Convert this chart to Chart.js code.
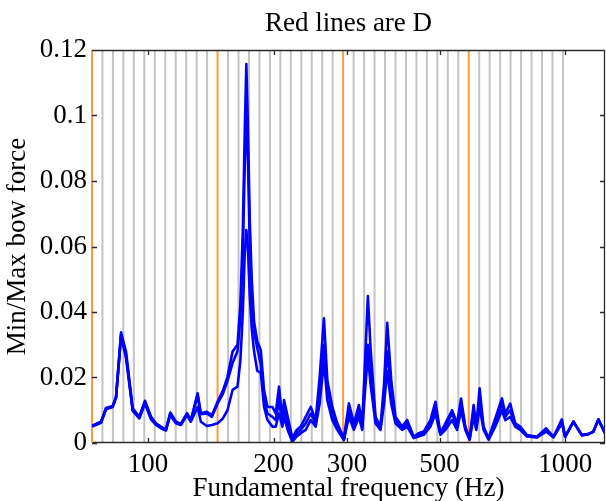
<!DOCTYPE html>
<html><head><meta charset="utf-8">
<script src="https://cdn.jsdelivr.net/npm/chart.js@4/dist/chart.umd.min.js"></script>
<style>html,body{margin:0;padding:0;background:#fff;overflow:hidden}canvas{display:block}</style>
</head><body>
<canvas id="c" width="606" height="501"></canvas>
<script>
const freqHz = [73.5,77.18,79.32,82.32,83.84,86.19,88.58,91.92,95.32,98.36,
101.7,104.5,107.4,110.4,113.1,116.7,119.9,124.0,126.7,131.5,
133.9,138.4,142.3,146.8,151.2,155.1,159.5,163.9,166.5,168.8,
170.6,172.1,173.5,175.4,177.3,179.6,182.8,186.4,189.8,193.4,
198.8,202.4,206.1,210.0,211.9,216.2,221.9,227.2,232.3,238.8,
245.5,252.3,257.9,264.1,269.1,276.6,284.3,294.9,303.1,311.6,
320.3,326.3,331.4,336.6,341.6,351.1,360.9,368.0,374.5,382.9,
392.0,406.8,418.1,433.6,445.0,458.1,475.4,488.7,502.3,516.3,
535.7,550.7,562.9,576.4,590.2,603.4,612.4,623.6,637.5,655.3,
680.0,705.6,718.5,738.6,759.2,780.5,809.8,855.7,900.6,937.6,
982.0,1000,1046.8,1096.3,1136.9,1168.7,1201.3,1246];

const forceA = [0.0053,0.0065,0.0107,0.0113,0.0141,0.0338,0.0279,0.0106,0.0080,0.0129,
0.0080,0.0060,0.0050,0.0040,0.0093,0.0065,0.0058,0.0091,0.0070,0.0152,
0.0091,0.0095,0.0085,0.0126,0.0160,0.0202,0.0279,0.0300,0.0420,0.0650,
0.0950,0.1157,0.0980,0.0680,0.0500,0.0370,0.0310,0.0284,0.0160,0.0110,
0.0110,0.0090,0.0172,0.0070,0.0131,0.0080,0.0015,0.0040,0.0050,0.0080,
0.0110,0.0070,0.0200,0.0381,0.0192,0.0110,0.0060,0.0015,0.0121,0.0060,
0.0116,0.0060,0.0250,0.0449,0.0290,0.0080,0.0050,0.0180,0.0367,0.0192,
0.0080,0.0050,0.0070,0.0019,0.0030,0.0035,0.0070,0.0126,0.0030,0.0060,
0.0100,0.0060,0.0136,0.0050,0.0014,0.0116,0.0050,0.0167,0.0050,0.0014,
0.0075,0.0136,0.0090,0.0120,0.0060,0.0050,0.0024,0.0019,0.0045,0.0019,
0.0072,0.0019,0.0065,0.0024,0.0027,0.0035,0.0072,0.0030];

const forceB = [0.0052,0.0064,0.0105,0.0112,0.0140,0.0330,0.0270,0.0100,0.0078,0.0125,
0.0076,0.0058,0.0048,0.0040,0.0090,0.0062,0.0056,0.0088,0.0068,0.0145,
0.0088,0.0090,0.0080,0.0120,0.0150,0.0190,0.0244,0.0280,0.0380,0.0580,
0.0850,0.1000,0.0880,0.0600,0.0450,0.0340,0.0290,0.0240,0.0130,0.0090,
0.0080,0.0070,0.0130,0.0060,0.0110,0.0060,0.0010,0.0030,0.0040,0.0060,
0.0090,0.0060,0.0160,0.0300,0.0170,0.0090,0.0050,0.0010,0.0100,0.0050,
0.0100,0.0050,0.0200,0.0300,0.0240,0.0070,0.0045,0.0150,0.0280,0.0160,
0.0070,0.0045,0.0060,0.0017,0.0025,0.0030,0.0060,0.0110,0.0028,0.0050,
0.0090,0.0050,0.0120,0.0045,0.0012,0.0100,0.0045,0.0130,0.0045,0.0012,
0.0060,0.0120,0.0080,0.0100,0.0055,0.0045,0.0022,0.0018,0.0040,0.0018,
0.0065,0.0019,0.0065,0.0024,0.0027,0.0035,0.0072,0.0030];

const forceC = [0.0050,0.0062,0.0103,0.0110,0.0138,0.0325,0.0260,0.0098,0.0075,0.0120,
0.0072,0.0055,0.0045,0.0038,0.0085,0.0060,0.0055,0.0085,0.0065,0.0110,
0.0065,0.0052,0.0055,0.0060,0.0075,0.0100,0.0162,0.0172,0.0250,0.0400,
0.0580,0.0650,0.0600,0.0450,0.0350,0.0280,0.0220,0.0214,0.0110,0.0070,
0.0050,0.0050,0.0090,0.0050,0.0080,0.0040,0.0004,0.0020,0.0030,0.0040,
0.0070,0.0050,0.0120,0.0250,0.0130,0.0070,0.0040,0.0009,0.0080,0.0040,
0.0080,0.0040,0.0160,0.0270,0.0180,0.0060,0.0040,0.0120,0.0220,0.0120,
0.0060,0.0040,0.0050,0.0015,0.0020,0.0025,0.0050,0.0090,0.0025,0.0040,
0.0070,0.0040,0.0100,0.0040,0.0010,0.0080,0.0040,0.0110,0.0040,0.0010,
0.0050,0.0100,0.0070,0.0080,0.0050,0.0040,0.0020,0.0017,0.0035,0.0017,
0.0060,0.0019,0.0065,0.0024,0.0027,0.0035,0.0072,0.0030];

const noteDHz = [73.42, 146.83, 293.66, 587.33];
const otherNoteHz = [77.78,82.41,87.31,92.50,98.00,103.83,110.00,116.54,123.47,130.81,138.59,
155.56,164.81,174.61,185.00,196.00,207.65,220.00,233.08,246.94,261.63,277.18,
311.13,329.63,349.23,369.99,392.00,415.30,440.00,466.16,493.88,523.25,554.37,
622.25,659.26,698.46,739.99,783.99,830.61,880.00,932.33,987.77];

const xTickValues = [100, 200, 300, 500, 1000];
const xTickLabels = ['100', '200', '300', '500', '1000'];
const yTickValues = [0, 0.02, 0.04, 0.06, 0.08, 0.1, 0.12];
const yTickLabels = ['0', '0.02', '0.04', '0.06', '0.08', '0.1', '0.12'];

const FONT = "'Liberation Serif', 'Times New Roman', serif";
const toPts = (xs, ys) => xs.map((x, i) => ({x: x, y: ys[i]}));

const datasets = [];
[forceA, forceB, forceC].forEach(s => datasets.push({
  data: toPts(freqHz, s), borderColor: '#0000ff', borderWidth: 2.6,
  pointRadius: 0, tension: 0, order: 0, borderJoinStyle: 'round'
}));
noteDHz.forEach(f => datasets.push({
  data: [{x: f, y: 0}, {x: f, y: 0.12}], borderColor: '#ff9a3c', borderWidth: 2,
  pointRadius: 0, order: 1, clip: 2
}));
otherNoteHz.forEach(f => datasets.push({
  data: [{x: f, y: 0}, {x: f, y: 0.12}], borderColor: '#c4c4c4', borderWidth: 2,
  pointRadius: 0, order: 2
}));

const framePlugin = {
  id: 'frame',
  afterDatasetsDraw(chart) {
    const {ctx, chartArea: a, scales: {x, y}} = chart;
    ctx.save();
    ctx.strokeStyle = '#2a2a2a';
    ctx.lineWidth = 1.3;
    ctx.beginPath();
    ctx.moveTo(a.left + 1, a.top + 0.5); ctx.lineTo(a.right - 0.5, a.top + 0.5);
    ctx.lineTo(a.right - 0.5, a.bottom - 0.5); ctx.lineTo(a.left + 1, a.bottom - 0.5);
    xTickValues.forEach(v => {
      const px = Math.round(x.getPixelForValue(v)) + 0.5;
      ctx.moveTo(px, a.bottom); ctx.lineTo(px, a.bottom - 5);
      ctx.moveTo(px, a.top); ctx.lineTo(px, a.top + 5);
    });
    yTickValues.forEach(v => {
      const py = Math.round(y.getPixelForValue(v)) + 0.5;
      ctx.moveTo(a.left, py); ctx.lineTo(a.left + 5, py);
      ctx.moveTo(a.right, py); ctx.lineTo(a.right - 5, py);
    });
    ctx.stroke();
    ctx.restore();
  }
};

new Chart(document.getElementById('c'), {
  type: 'line',
  data: {datasets: datasets},
  options: {
    responsive: false,
    animation: false,
    devicePixelRatio: 1,
    layout: {padding: {left: 0, right: 1, top: 0, bottom: 0}},
    plugins: {
      legend: {display: false},
      tooltip: {enabled: false},
      title: {
        display: true, text: 'Red lines are D', fullSize: false, color: '#000',
        font: {family: FONT, size: 27, weight: 'normal', lineHeight: 1.2},
        padding: {top: 8, bottom: 9.6}
      }
    },
    scales: {
      x: {
        type: 'logarithmic', min: 73.42, max: 1246,
        grid: {display: false, drawTicks: false},
        border: {display: false},
        afterBuildTicks: s => { s.ticks = xTickValues.map(v => ({value: v})); },
        ticks: {
          autoSkip: false, maxRotation: 0, minRotation: 0, padding: 6, color: '#000',
          font: {family: FONT, size: 27, lineHeight: 1.2},
          callback: (v, i) => xTickLabels[i]
        },
        title: {
          display: true, text: 'Fundamental frequency (Hz)', color: '#000',
          font: {family: FONT, size: 27, lineHeight: 1}, padding: {top: 0, bottom: -1}
        },
        afterFit: s => { s.height = 58; }
      },
      y: {
        type: 'linear', min: 0, max: 0.12,
        grid: {display: false, drawTicks: false},
        border: {display: false},
        afterBuildTicks: s => { s.ticks = yTickValues.map(v => ({value: v})); },
        ticks: {
          padding: 5, color: '#000',
          font: {family: FONT, size: 27, lineHeight: 1.2},
          callback: (v, i) => yTickLabels[i]
        },
        title: {
          display: true, text: 'Min/Max bow force', color: '#000',
          font: {family: FONT, size: 27, lineHeight: 1.2}, padding: {top: 2, bottom: 0}
        },
        afterFit: s => { s.width = 92; }
      }
    }
  },
  plugins: [framePlugin]
});
</script>
</body></html>
